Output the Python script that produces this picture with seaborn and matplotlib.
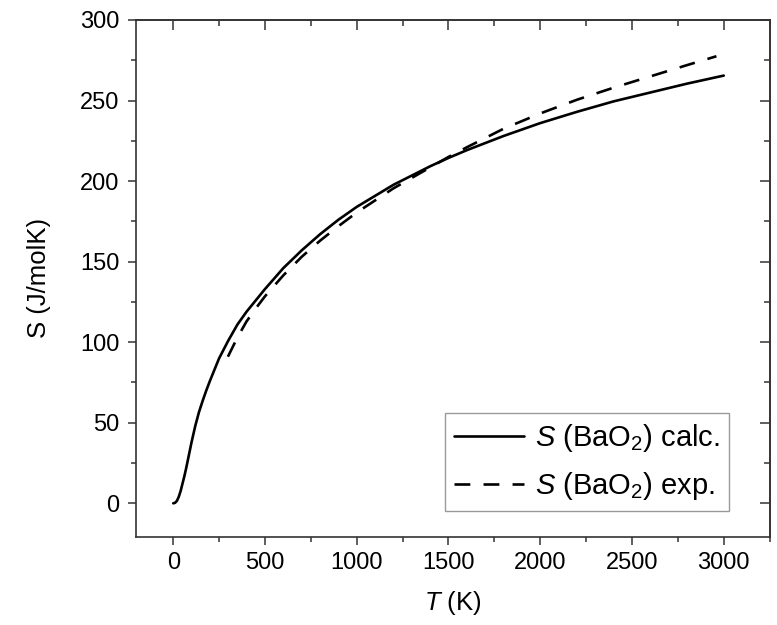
import numpy as np
import pandas as pd
import matplotlib
matplotlib.use("Agg")
import matplotlib.pyplot as plt
import seaborn as sns
from matplotlib.ticker import MultipleLocator

# ---- data ----
T_calc = [0, 10, 20, 30, 40, 50, 60, 70, 80, 90, 100, 120, 140, 160, 180, 200,
          225, 250, 300, 350, 400, 450, 500, 600, 700, 800, 900, 1000, 1200,
          1400, 1500, 1600, 1800, 2000, 2200, 2400, 2600, 2800, 3000]
S_calc = [0, 0.3, 1.5, 4, 7.5, 12, 16.5, 21.5, 27, 32.5, 38, 48, 56.5, 63.5, 70, 76,
          83, 90, 101, 111, 119, 126, 133, 146, 157, 167, 176, 184, 197.7,
          209.2, 214.4, 219.2, 228, 236, 243, 249.5, 255, 260.5, 265.5]

T_exp = [298, 350, 400, 450, 500, 600, 700, 800, 900, 1000, 1100, 1200, 1300,
         1400, 1500, 1600, 1800, 2000, 2200, 2400, 2600, 2800, 2960]
S_exp = [91, 103, 113, 121, 128.5, 141.5, 153, 163, 172, 180.5, 188, 195.5, 202,
         208.5, 215, 221, 232.5, 242, 250.5, 258, 265, 272, 277.5]

series_labels = [r"$S$ (BaO$_2$) calc.", r"$S$ (BaO$_2$) exp."]
x_label = r"$T$ (K)"
y_label = "S (J/molK)"

df = pd.concat([
    pd.DataFrame({"T": T_calc, "S": S_calc, "series": series_labels[0]}),
    pd.DataFrame({"T": T_exp, "S": S_exp, "series": series_labels[1]}),
], ignore_index=True)

sns.set_style("ticks")
plt.rcParams["font.family"] = ["Liberation Sans", "DejaVu Sans"]
plt.rcParams["mathtext.fontset"] = "custom"
plt.rcParams["mathtext.rm"] = "Liberation Sans"
plt.rcParams["mathtext.it"] = "Liberation Sans:italic"
plt.rcParams["mathtext.bf"] = "Liberation Sans:bold"
plt.rcParams["text.color"] = "black"
plt.rcParams["axes.labelcolor"] = "black"

fig = plt.figure(figsize=(7.77, 6.25), dpi=100)
ax = fig.add_axes([0.175, 0.1416, 0.816, 0.8264])

sns.lineplot(data=df, x="T", y="S", hue="series", style="series",
             palette=["black", "black"], dashes=["", (6, 5)],
             linewidth=1.9, estimator=None, sort=False, legend=False, ax=ax)

ax.set_xlim(-203, 3252)
ax.set_ylim(-20.6, 300)
ax.xaxis.set_major_locator(MultipleLocator(500))
ax.xaxis.set_minor_locator(MultipleLocator(250))
ax.yaxis.set_major_locator(MultipleLocator(50))
ax.yaxis.set_minor_locator(MultipleLocator(25))

spine_c = "#333333"
for s in ax.spines.values():
    s.set_visible(True)
    s.set_linewidth(1.2)
    s.set_color(spine_c)

ax.tick_params(which="major", direction="out", length=6, width=1.1,
               color=spine_c, labelsize=17, labelcolor="black", pad=5)
ax.tick_params(which="minor", direction="out", length=3.5, width=1.1, color=spine_c)
ax.tick_params(axis="y", which="major", pad=6)

top = ax.secondary_xaxis("top")
top.xaxis.set_major_locator(MultipleLocator(500))
top.xaxis.set_minor_locator(MultipleLocator(250))
top.tick_params(which="major", direction="in", length=7, width=1.1, color=spine_c, labeltop=False)
top.tick_params(which="minor", direction="in", length=4, width=1.1, color=spine_c)
top.spines["top"].set_linewidth(1.2)
top.spines["top"].set_color(spine_c)

right = ax.secondary_yaxis("right")
right.yaxis.set_major_locator(MultipleLocator(50))
right.yaxis.set_minor_locator(MultipleLocator(25))
right.tick_params(which="major", direction="in", length=7, width=1.1, color=spine_c, labelright=False)
right.tick_params(which="minor", direction="in", length=4, width=1.1, color=spine_c)
right.spines["right"].set_linewidth(1.2)
right.spines["right"].set_color(spine_c)

ax.set_xlabel(x_label, fontsize=18.5, labelpad=11)
ax.set_ylabel(y_label, fontsize=18.5, labelpad=21)

lines = ax.get_lines()[:2]
leg = ax.legend(lines, series_labels, loc="lower right",
                bbox_to_anchor=(0.935, 0.05), fontsize=21, frameon=True,
                fancybox=False, edgecolor="#9a9a9a", framealpha=1,
                handlelength=2.4, handletextpad=0.4, labelspacing=0.55,
                borderpad=0.3, borderaxespad=0)
leg.get_frame().set_linewidth(1.0)

fig.savefig("out.png", dpi=100)
